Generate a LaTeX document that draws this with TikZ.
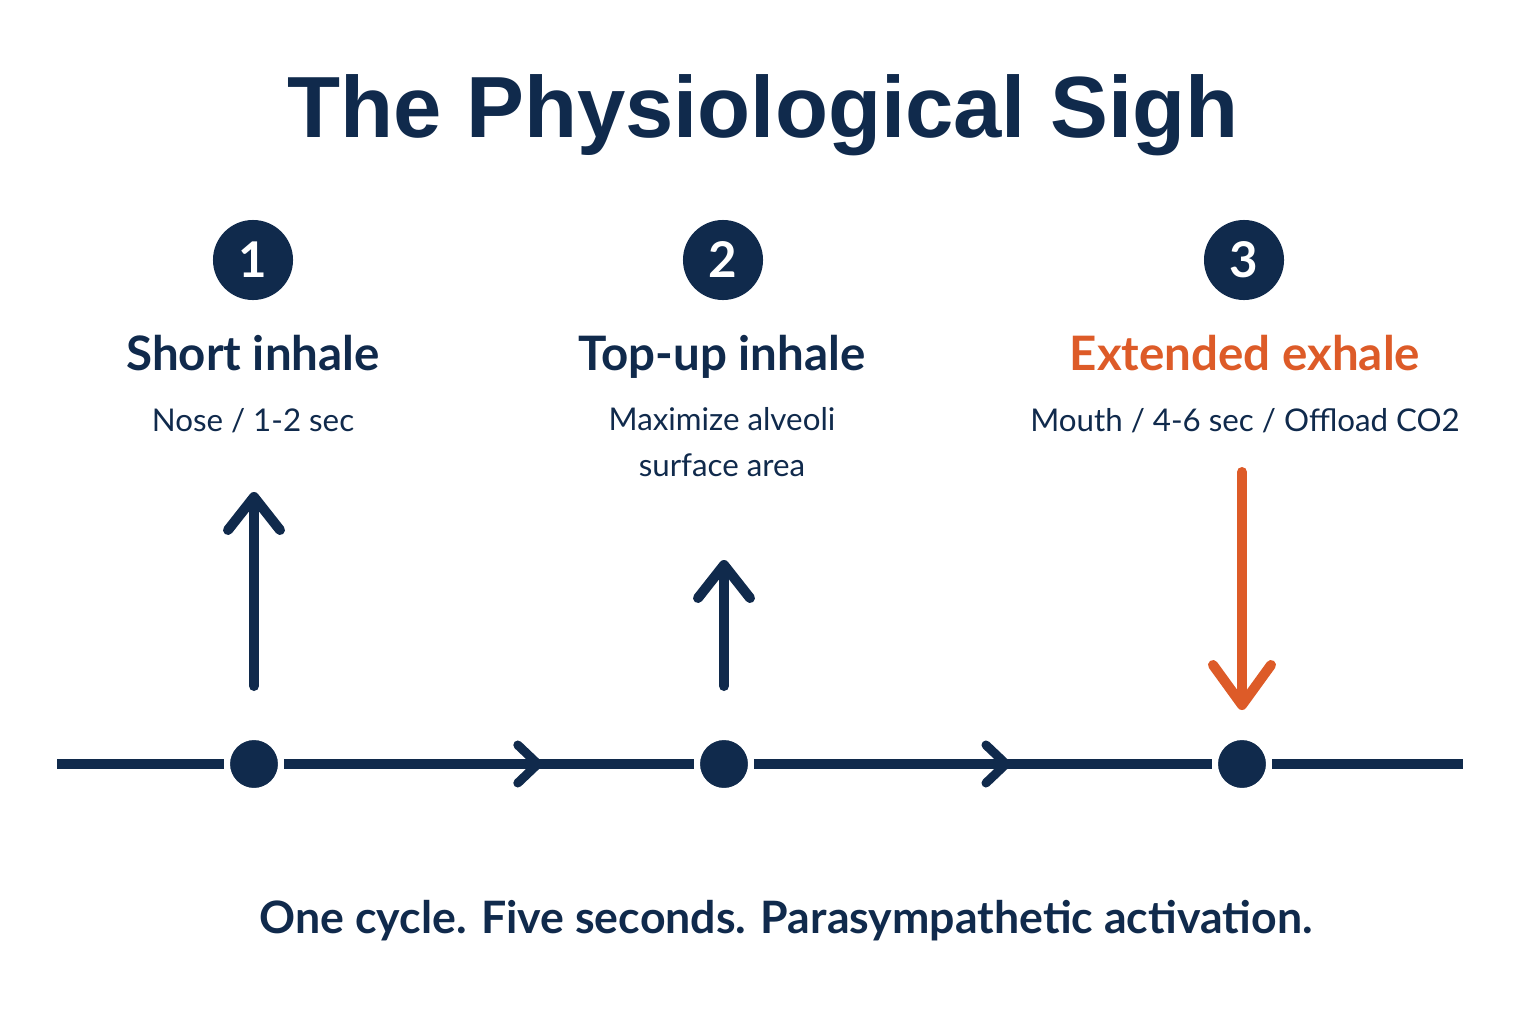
\documentclass[tikz,border=0pt]{standalone}
\usepackage{fontspec}
\setmainfont{Lato}
\newfontfamily\titlefont{Liberation Sans}
\usetikzlibrary{arrows.meta, positioning, decorations.markings}
\definecolor{navy}{HTML}{102A4C}
\definecolor{exhale}{HTML}{DD5B28}

\begin{document}
\begin{tikzpicture}[x=0.01cm, y=-0.01cm, >=Stealth]
    \tikzstyle{num} = [circle, fill=navy, minimum size=0.8cm, inner sep=0pt, text=white, font=\bfseries\fontsize{14}{14}\selectfont]
    \tikzstyle{dot} = [circle, fill=navy, draw=white, line width=0.06cm, minimum size=0.54cm, inner sep=0pt]
    \tikzstyle{head} = [anchor=base, text=navy, font=\bfseries\fontsize{13.5}{16}\selectfont]
    \tikzstyle{sub} = [anchor=base, align=center, text=navy, font=\fontsize{8.9}{12.8}\selectfont]
    \tikzstyle{breath} = [line width=0.1cm, line cap=round, -{Straight Barb[length=0.33cm, width=0.52cm, line cap=round, line join=round]}]
    \tikzstyle{timeline} = [draw=navy, line width=0.1cm]

    \useasboundingbox[fill=white] (0,0) rectangle (1536,1024);

    % Title
    \node[anchor=base, text=navy, font=\titlefont\bfseries\fontsize{24.7}{30}\selectfont] (title) at (763,137) {The Physiological Sigh};

    % Define steps
    \node[num] (n1) at (253,260) {1};
    \node[num] (n2) at (723,260) {2};
    \node[num] (n3) at (1244,260) {3};

    \node[head] (h1) at (253,370) {Short inhale};
    \node[head] (h2) at (722,370) {Top-up inhale};
    \node[head, text=exhale] (h3) at (1245,370) {Extended exhale};

    \node[sub] (s1) at (253,431) {Nose / 1-2 sec};
    \node[sub] (s2) at (722,476) {Maximize alveoli\\surface area};
    \node[sub] (s3) at (1245,431) {Mouth / 4-6 sec / Offload CO2};

    % Breath arrows
    \coordinate (a1 tail) at (254,686);
    \coordinate (a1 tip) at (254,492);
    \coordinate (a2 tail) at (724,686);
    \coordinate (a2 tip) at (724,560);
    \coordinate (a3 tail) at (1242,472);
    \coordinate (a3 tip) at (1242,710);
    \draw[breath, navy] (a1 tail) -- (a1 tip);
    \draw[breath, navy] (a2 tail) -- (a2 tip);
    \draw[breath, exhale, -{Straight Barb[length=0.4cm, width=0.58cm, line cap=round, line join=round]}] (a3 tail) -- (a3 tip);

    % Timeline
    \coordinate (start) at (57,764);
    \coordinate (end) at (1463,764);
    \node[dot] (d1) at (254,764) {};
    \node[dot] (d2) at (724,764) {};
    \node[dot] (d3) at (1242,764) {};

    \draw[timeline] (start) -- (d1);
    \draw[timeline, postaction={decorate}, decoration={markings, mark=at position 0.63 with {\arrow[navy, line width=0.09cm]{Straight Barb[length=0.2cm, width=0.38cm, line cap=round, line join=round]}}}] (d1) -- (d2);
    \draw[timeline, postaction={decorate}, decoration={markings, mark=at position 0.56 with {\arrow[navy, line width=0.09cm]{Straight Barb[length=0.2cm, width=0.38cm, line cap=round, line join=round]}}}] (d2) -- (d3);
    \draw[timeline] (d3) -- (end);

    % Caption
    \node[anchor=base, text=navy, font=\bfseries\fontsize{12.7}{16}\selectfont] (caption) at (786,933) {One cycle. Five seconds. Parasympathetic activation.};
\end{tikzpicture}
\end{document}
